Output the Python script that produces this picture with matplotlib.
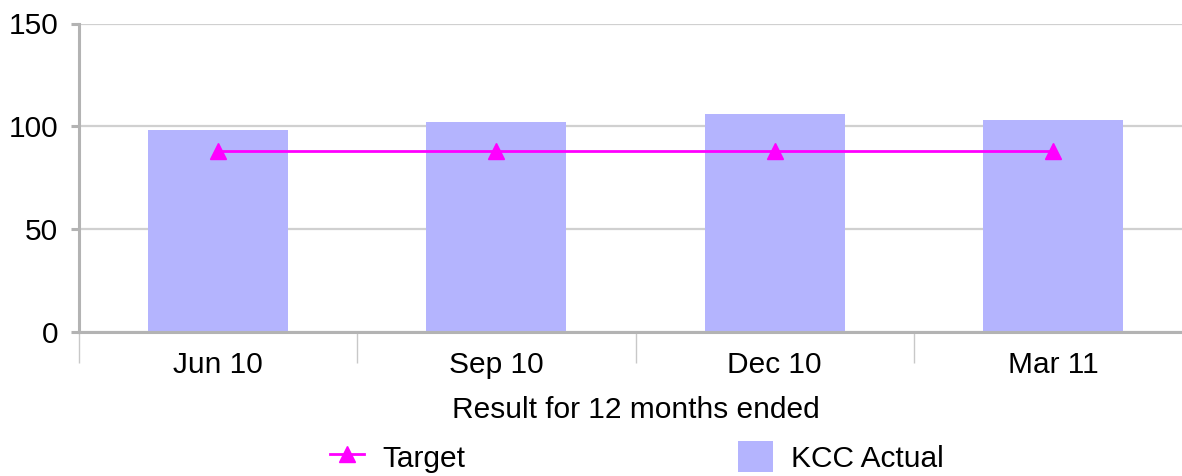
import matplotlib
matplotlib.use("Agg")
import matplotlib.pyplot as plt
from matplotlib.ticker import FixedLocator, NullFormatter, FixedFormatter

categories = ["Jun 10", "Sep 10", "Dec 10", "Mar 11"]
kcc_actual = [98, 102, 106, 103]
target = [88, 88, 88, 88]
y_ticks = [0, 50, 100, 150]

plt.rcParams['font.family'] = ['Liberation Sans', 'DejaVu Sans']
FS = 21.5

W, H = 1182, 476
fig = plt.figure(figsize=(W / 100, H / 100), dpi=100)
left, right, top, bottom = 79, 1192, 23.5, 332
ax = fig.add_axes([left / W, 1 - bottom / H, (right - left) / W, (bottom - top) / H])

x = list(range(len(categories)))
bars = ax.bar(x, kcc_actual, width=0.503, color='#b4b4fe', zorder=2, label='KCC Actual')
line, = ax.plot(x, target, color='#ff00ff', lw=2, marker='^', ms=12, zorder=3, label='Target')

ax.set_xlim(-0.5, len(categories) - 0.5)
ax.set_ylim(0, 150)

axis_col = '#b3b3b3'
for s in ['top', 'right']:
    ax.spines[s].set_visible(False)
for s in ['left', 'bottom']:
    ax.spines[s].set_color(axis_col)
    ax.spines[s].set_linewidth(2.2)

ax.set_yticks(y_ticks)
ax.yaxis.grid(True, color='#d0d0d0', lw=1.6, zorder=0)
ax.tick_params(axis='y', length=6, width=2.2, color=axis_col, labelsize=FS, pad=9)

# category boundaries as long major ticks, labels on minor ticks
ax.xaxis.set_major_locator(FixedLocator([i - 0.5 for i in range(len(categories) + 1)]))
ax.xaxis.set_major_formatter(NullFormatter())
ax.xaxis.set_minor_locator(FixedLocator(x))
ax.xaxis.set_minor_formatter(FixedFormatter(categories))
ax.tick_params(axis='x', which='major', length=22, width=1.0, color='#c8c8c8')
ax.tick_params(axis='x', which='minor', length=0, labelsize=FS, pad=14)

ax.set_xlabel('Result for 12 months ended', fontsize=FS)
ax.xaxis.set_label_coords(0.5, -(410 - bottom) / (bottom - top))
ax.xaxis.label.set_va('center')

fig.legend(handles=[line, bars], labels=['Target', 'KCC Actual'], loc='center left',
           bbox_to_anchor=(330 / W, 1 - 457 / H), ncol=2, frameon=False, fontsize=FS,
           handlelength=1.15, handleheight=1.2, handletextpad=0.6, columnspacing=9.15,
           borderpad=0, borderaxespad=0)

fig.savefig('out.png', dpi=100)
